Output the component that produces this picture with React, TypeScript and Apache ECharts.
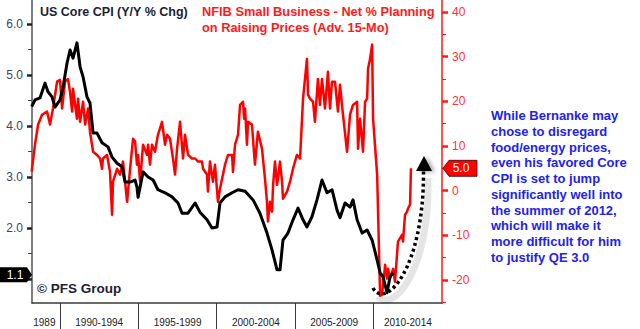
import React, { useEffect, useRef } from "react";
import * as echarts from "echarts";

// ---- Data (decimal years) ----
const coreYears = [
  1988.19, 1988.4, 1988.72, 1989.04, 1989.23, 1989.49, 1989.68, 1990.0, 1990.19, 1990.45,
  1990.64, 1990.83, 1991.08, 1991.28, 1991.47, 1991.72, 1991.91, 1992.11, 1992.36, 1992.68,
  1993.06, 1993.32, 1993.64, 1993.96, 1994.15, 1994.47, 1994.79, 1994.91, 1994.98, 1995.3,
  1995.62, 1995.94, 1996.25, 1996.7, 1997.15, 1997.53, 1997.79, 1998.17, 1998.62, 1998.93,
  1999.38, 1999.7, 2000.02, 2000.21, 2000.53, 2000.98, 2001.36, 2001.81, 2002.32, 2002.76,
  2003.21, 2003.53, 2003.85, 2004.04, 2004.23, 2004.55, 2004.87, 2005.19, 2005.51, 2005.76,
  2006.08, 2006.4, 2006.72, 2007.04, 2007.36, 2007.68, 2007.87, 2008.19, 2008.51, 2008.7,
  2008.96, 2009.28, 2009.6, 2009.92, 2010.24, 2010.43, 2010.62, 2010.87, 2011.06, 2011.26,
];
const coreCpi = [
  4.38, 4.51, 4.55, 4.84, 4.67, 4.57, 4.37, 4.51, 4.76, 5.24,
  5.49, 5.33, 5.63, 5.16, 4.96, 4.57, 4.45, 3.86, 3.86, 3.67,
  3.59, 3.39, 3.27, 3.2, 2.9, 2.9, 2.94, 2.8, 2.6, 3.1,
  3.0, 2.94, 2.75, 2.69, 2.61, 2.49, 2.29, 2.29, 2.49, 2.31,
  2.16, 2.0, 2.02, 2.49, 2.61, 2.69, 2.75, 2.72, 2.55, 2.29,
  1.9, 1.57, 1.18, 1.18, 1.76, 1.9, 2.16, 2.39, 2.16, 2.02,
  2.22, 2.55, 2.94, 2.69, 2.75, 2.35, 2.2, 2.49, 2.41, 2.55,
  2.16, 1.9, 1.96, 1.76, 1.37, 1.12, 1.04, 0.73, 1.04, 1.12,
];

const nfibYears = [
  1988.19, 1988.4, 1988.6, 1988.85, 1989.17, 1989.36, 1989.55, 1989.81, 1990.0, 1990.13,
  1990.32, 1990.51, 1990.64, 1990.77, 1990.83, 1991.08, 1991.15, 1991.28, 1991.47, 1991.6,
  1991.79, 1991.91, 1992.11, 1992.36, 1992.55, 1992.68, 1992.74, 1993.0, 1993.19, 1993.32,
  1993.38, 1993.64, 1993.83, 1994.02, 1994.28, 1994.47, 1994.66, 1994.79, 1994.91, 1994.98,
  1995.11, 1995.3, 1995.55, 1995.62, 1995.74, 1995.87, 1996.06, 1996.25, 1996.51, 1996.7,
  1996.83, 1997.02, 1997.21, 1997.34, 1997.47, 1997.66, 1997.85, 1997.98, 1998.17, 1998.42,
  1998.62, 1998.81, 1999.06, 1999.13, 1999.38, 1999.44, 1999.57, 1999.76, 1999.89, 2000.08,
  2000.21, 2000.4, 2000.53, 2000.72, 2000.98, 2001.04, 2001.17, 2001.36, 2001.49, 2001.68,
  2001.75, 2001.81, 2001.93, 2002.0, 2002.25, 2002.44, 2002.63, 2002.89, 2003.08, 2003.21,
  2003.27, 2003.4, 2003.53, 2003.6, 2003.72, 2003.85, 2003.91, 2004.04, 2004.17, 2004.23,
  2004.49, 2004.68, 2004.87, 2005.12, 2005.32, 2005.51, 2005.76, 2005.83, 2005.95, 2006.15,
  2006.27, 2006.46, 2006.59, 2006.72, 2006.91, 2007.1, 2007.23, 2007.36, 2007.55, 2007.74,
  2007.87, 2008.06, 2008.32, 2008.51, 2008.7, 2008.96, 2009.02, 2009.15, 2009.34, 2009.47,
  2009.6, 2009.66, 2009.79, 2009.92, 2009.98, 2010.24, 2010.43, 2010.55, 2010.62, 2010.75,
  2010.87, 2010.94, 2011.06, 2011.26, 2011.38, 2011.57, 2011.83, 2011.89, 2012.02, 2012.15,
  2012.21, 2012.34, 2012.4,
];
const nfibNet = [
  4.25, 10.3, 14.8, 17, 17.7, 14.8, 18.4, 24.4, 24.8, 18.4,
  24.4, 25, 22, 17.7, 22.8, 16.1, 20.6, 15.4, 19.9, 14.8,
  18.4, 13.2, 8.7, 8, 7.2, 4.9, 7.2, 8, 4.2, -5.4,
  2, 4.9, 3.6, 6.5, -2.5, 4.9, 11.6, 11, 5.8, 8,
  2, 10.3, 8, 10.3, 5.8, 10.3, 8.7, 12.5, 15.4, 10.3,
  12.5, 11.6, 7.2, 3.6, 9.4, 15.4, 7.2, 12.5, 8, 7.2,
  7.2, 6.5, 6.5, 4.9, 3.6, -0.2, 6.5, 2, 5.8, -2.5,
  0.4, 3.6, 5.8, 8, 8, 4.2, 10.3, 12.5, 19.2, 19.9,
  16.1, 18.4, 10.3, 15.4, 14.8, 5.8, 13.2, 9.4, 2.7, -2.5,
  -6.9, -2.5, -4.7, 1.3, 6.5, 1.3, 2.7, 6.5, 2, -1.8,
  -0.2, 2, 4.9, 8, 7.2, 20.6, 29.5, 21.5, 20.6, 19.9,
  15.4, 25, 19.2, 25, 18.4, 26.6, 18.4, 24.4, 24.4, 17.7,
  23.7, 17, 8.7, 17, 19.2, 19.9, 9.4, 16.1, 8.7, 19.9,
  20.6, 27.3, 29.5, 32.7, 16.1, 3.6, -23.5, -23.3, -21, -16.6,
  -19.7, -17.5, -19.7, -17.5, -20.4, -11.4, -9.9, -11.4, -5.4, -4.7,
  -4, -3.1, 5.0,
];

const periodTicks = [1990, 1995, 2000, 2005, 2010];
const periodLabelPos = [1989.0, 1992.5, 1997.5, 2002.5, 2007.5, 2012.2];
const periodLabels = ["1989", "1990-1994", "1995-1999", "2000-2004", "2005-2009", "2010-2014"];
const leftMajor = [1, 2, 3, 4, 5, 6];
const leftLabels = [2, 3, 4, 5, 6];
const leftMinor = [1.5, 2.5, 3.5, 4.5, 5.5];
const rightMajor = [-20, -10, 0, 10, 20, 30, 40];
const rightMinor = [-25, -15, -5, 5, 15, 25, 35];

const titleLeft = "US Core CPI (Y/Y % Chg)";
const titleRight = "NFIB Small Business - Net % Planning\non Raising Prices (Adv. 15-Mo)";
const copyright = "\u00A9 PFS Group";
const note = [
  "While Bernanke may",
  "chose to disregard",
  "food/energy prices,",
  "even his favored Core",
  "CPI is set to jump",
  "significantly well into",
  "the summer of 2012,",
  "which will make it",
  "more difficult for him",
  "to justify QE 3.0",
];

const FONT = '"Liberation Sans", Arial, sans-serif';

export default function App() {
  const ref = useRef<HTMLDivElement>(null);
  useEffect(() => {
    const chart = echarts.init(ref.current!, null, { renderer: "svg", width: 640, height: 329 });
    const leftMin = 0.529, leftMax = 6.47;
    const rightMin = -25.15, rightMax = 42.68;
    chart.setOption({
      animation: false,
      backgroundColor: "#ffffff",
      grid: { left: 32, right: 198, top: 0, bottom: 26, containLabel: false },
      xAxis: {
        type: "value",
        min: 1988.21,
        max: 2014.38,
        splitLine: { show: false },
        axisLine: { show: true, onZero: false, lineStyle: { color: "#3a3a3a", width: 1.5 } },
        axisTick: { show: true, customValues: periodTicks, length: 26, lineStyle: { color: "#3a3a3a", width: 1 } },
        axisLabel: {
          customValues: periodLabelPos,
          margin: 14,
          color: "#222",
          fontSize: 10,
          fontFamily: FONT,
          formatter: (v: number) => {
            const i = periodLabelPos.findIndex((p) => Math.abs(p - v) < 0.01);
            return i >= 0 ? periodLabels[i] : "";
          },
        },
      },
      yAxis: [
        {
          type: "value", position: "left", min: leftMin, max: leftMax,
          splitLine: { show: false },
          axisLine: { show: true, onZero: false, lineStyle: { color: "#555", width: 1.5 } },
          axisTick: { show: true, customValues: leftMajor, length: 5, lineStyle: { color: "#222", width: 2.5 } },
          axisLabel: {
            customValues: leftLabels, margin: 9, color: "#3a4660", fontSize: 12, fontFamily: FONT,
            formatter: (v: number) => v.toFixed(1),
          },
        },
        {
          type: "value", position: "left", min: leftMin, max: leftMax,
          splitLine: { show: false },
          axisLine: { show: false },
          axisTick: { show: true, customValues: leftMinor, length: 4, lineStyle: { color: "#444", width: 1 } },
          axisLabel: { show: false },
        },
        {
          type: "value", position: "right", min: rightMin, max: rightMax,
          splitLine: { show: false },
          axisLine: { show: true, onZero: false, lineStyle: { color: "#ff1a1a", width: 1.5 } },
          axisTick: { show: true, customValues: rightMajor, length: 6, lineStyle: { color: "#ff1a1a", width: 2.5 } },
          axisLabel: {
            customValues: rightMajor, margin: 10, color: "#ff3333", fontSize: 12, fontFamily: FONT,
            formatter: (v: number) => String(Math.round(v)),
          },
        },
        {
          type: "value", position: "right", min: rightMin, max: rightMax,
          splitLine: { show: false },
          axisLine: { show: false },
          axisTick: { show: true, customValues: rightMinor, length: 4, lineStyle: { color: "#ff1a1a", width: 1 } },
          axisLabel: { show: false },
        },
      ],
      series: [
        {
          type: "line", yAxisIndex: 2, symbol: "none", z: 2,
          data: nfibYears.map((y, i) => [y, nfibNet[i]]),
          lineStyle: { color: "#ff0000", width: 2.5, join: "round" },
        },
        {
          type: "line", yAxisIndex: 0, symbol: "none", z: 3,
          data: coreYears.map((y, i) => [y, coreCpi[i]]),
          lineStyle: { color: "#000000", width: 3, join: "round" },
        },
      ],
    });

    const lastCore = coreCpi[coreCpi.length - 1];
    const lastNfib = nfibNet[nfibNet.length - 1];
    const yL = (chart.convertToPixel({ yAxisIndex: 0 }, lastCore) as number) + 2;
    const yR = chart.convertToPixel({ yAxisIndex: 2 }, lastNfib) as number;

    chart.setOption({
      graphic: [
        {
          type: "text", x: 40, y: 12, z: 50,
          style: { text: titleLeft, fill: "#1c2236", fontSize: 12.5, fontWeight: "bold", fontFamily: FONT, textVerticalAlign: "middle" },
        },
        {
          type: "text", x: 202, y: 4, z: 50,
          style: { text: titleRight, fill: "#ff1a1a", fontSize: 12.8, fontWeight: "bold", fontFamily: FONT, lineHeight: 15.6, textVerticalAlign: "top" },
        },
        {
          type: "text", x: 37, y: 288, z: 50,
          style: { text: copyright, fill: "#1c2236", fontSize: 13.5, fontWeight: "bold", fontFamily: FONT, textVerticalAlign: "middle" },
        },
        {
          type: "text", x: 491, y: 108, z: 50,
          style: { text: note.join("\n"), fill: "#2222ee", fontSize: 13, fontWeight: "bold", fontFamily: FONT, lineHeight: 15.7, textVerticalAlign: "top" },
        },
        // shadow of the arrow
        {
          type: "bezierCurve", z: 40,
          shape: { x1: 378, y1: 296, cpx1: 392, cpy1: 314, cpx2: 430, cpy2: 272, x2: 428, y2: 178 },
          style: { stroke: "rgba(0,0,0,0.10)", lineWidth: 7, fill: "none" },
        },
        {
          type: "bezierCurve", z: 41,
          shape: { x1: 373, y1: 288, cpx1: 385, cpy1: 310, cpx2: 424, cpy2: 270, x2: 423.5, y2: 171 },
          style: { stroke: "#000", lineWidth: 3.5, lineDash: [3, 3], fill: "none" },
        },
        {
          type: "polygon", z: 42,
          shape: { points: [[416, 171], [432, 171], [424, 156]] },
          style: { fill: "#000", shadowBlur: 4, shadowColor: "rgba(0,0,0,0.35)", shadowOffsetX: 3, shadowOffsetY: 1 },
        },
        // value badges
        {
          type: "polygon", z: 60,
          shape: { points: [[0, yL - 7.5], [27, yL - 7.5], [32, yL], [27, yL + 7.5], [0, yL + 7.5]] },
          style: { fill: "#000" },
        },
        {
          type: "text", x: 15, y: yL, z: 61,
          style: { text: lastCore.toFixed(1), fill: "#fff", fontSize: 12, fontFamily: FONT, textAlign: "center", textVerticalAlign: "middle" },
        },
        {
          type: "polygon", z: 60,
          shape: { points: [[443, yR], [449, yR - 8], [477, yR - 8], [477, yR + 8], [449, yR + 8]] },
          style: { fill: "#ff0000", stroke: "#300", lineWidth: 0.8 },
        },
        {
          type: "text", x: 461, y: yR, z: 61,
          style: { text: lastNfib.toFixed(1), fill: "#fff", fontSize: 12, fontFamily: FONT, textAlign: "center", textVerticalAlign: "middle" },
        },
      ],
    });
    return () => chart.dispose();
  }, []);
  return <div ref={ref} style={{ position: "absolute", left: 0, top: 0, width: 640, height: 329 }} />;
}
